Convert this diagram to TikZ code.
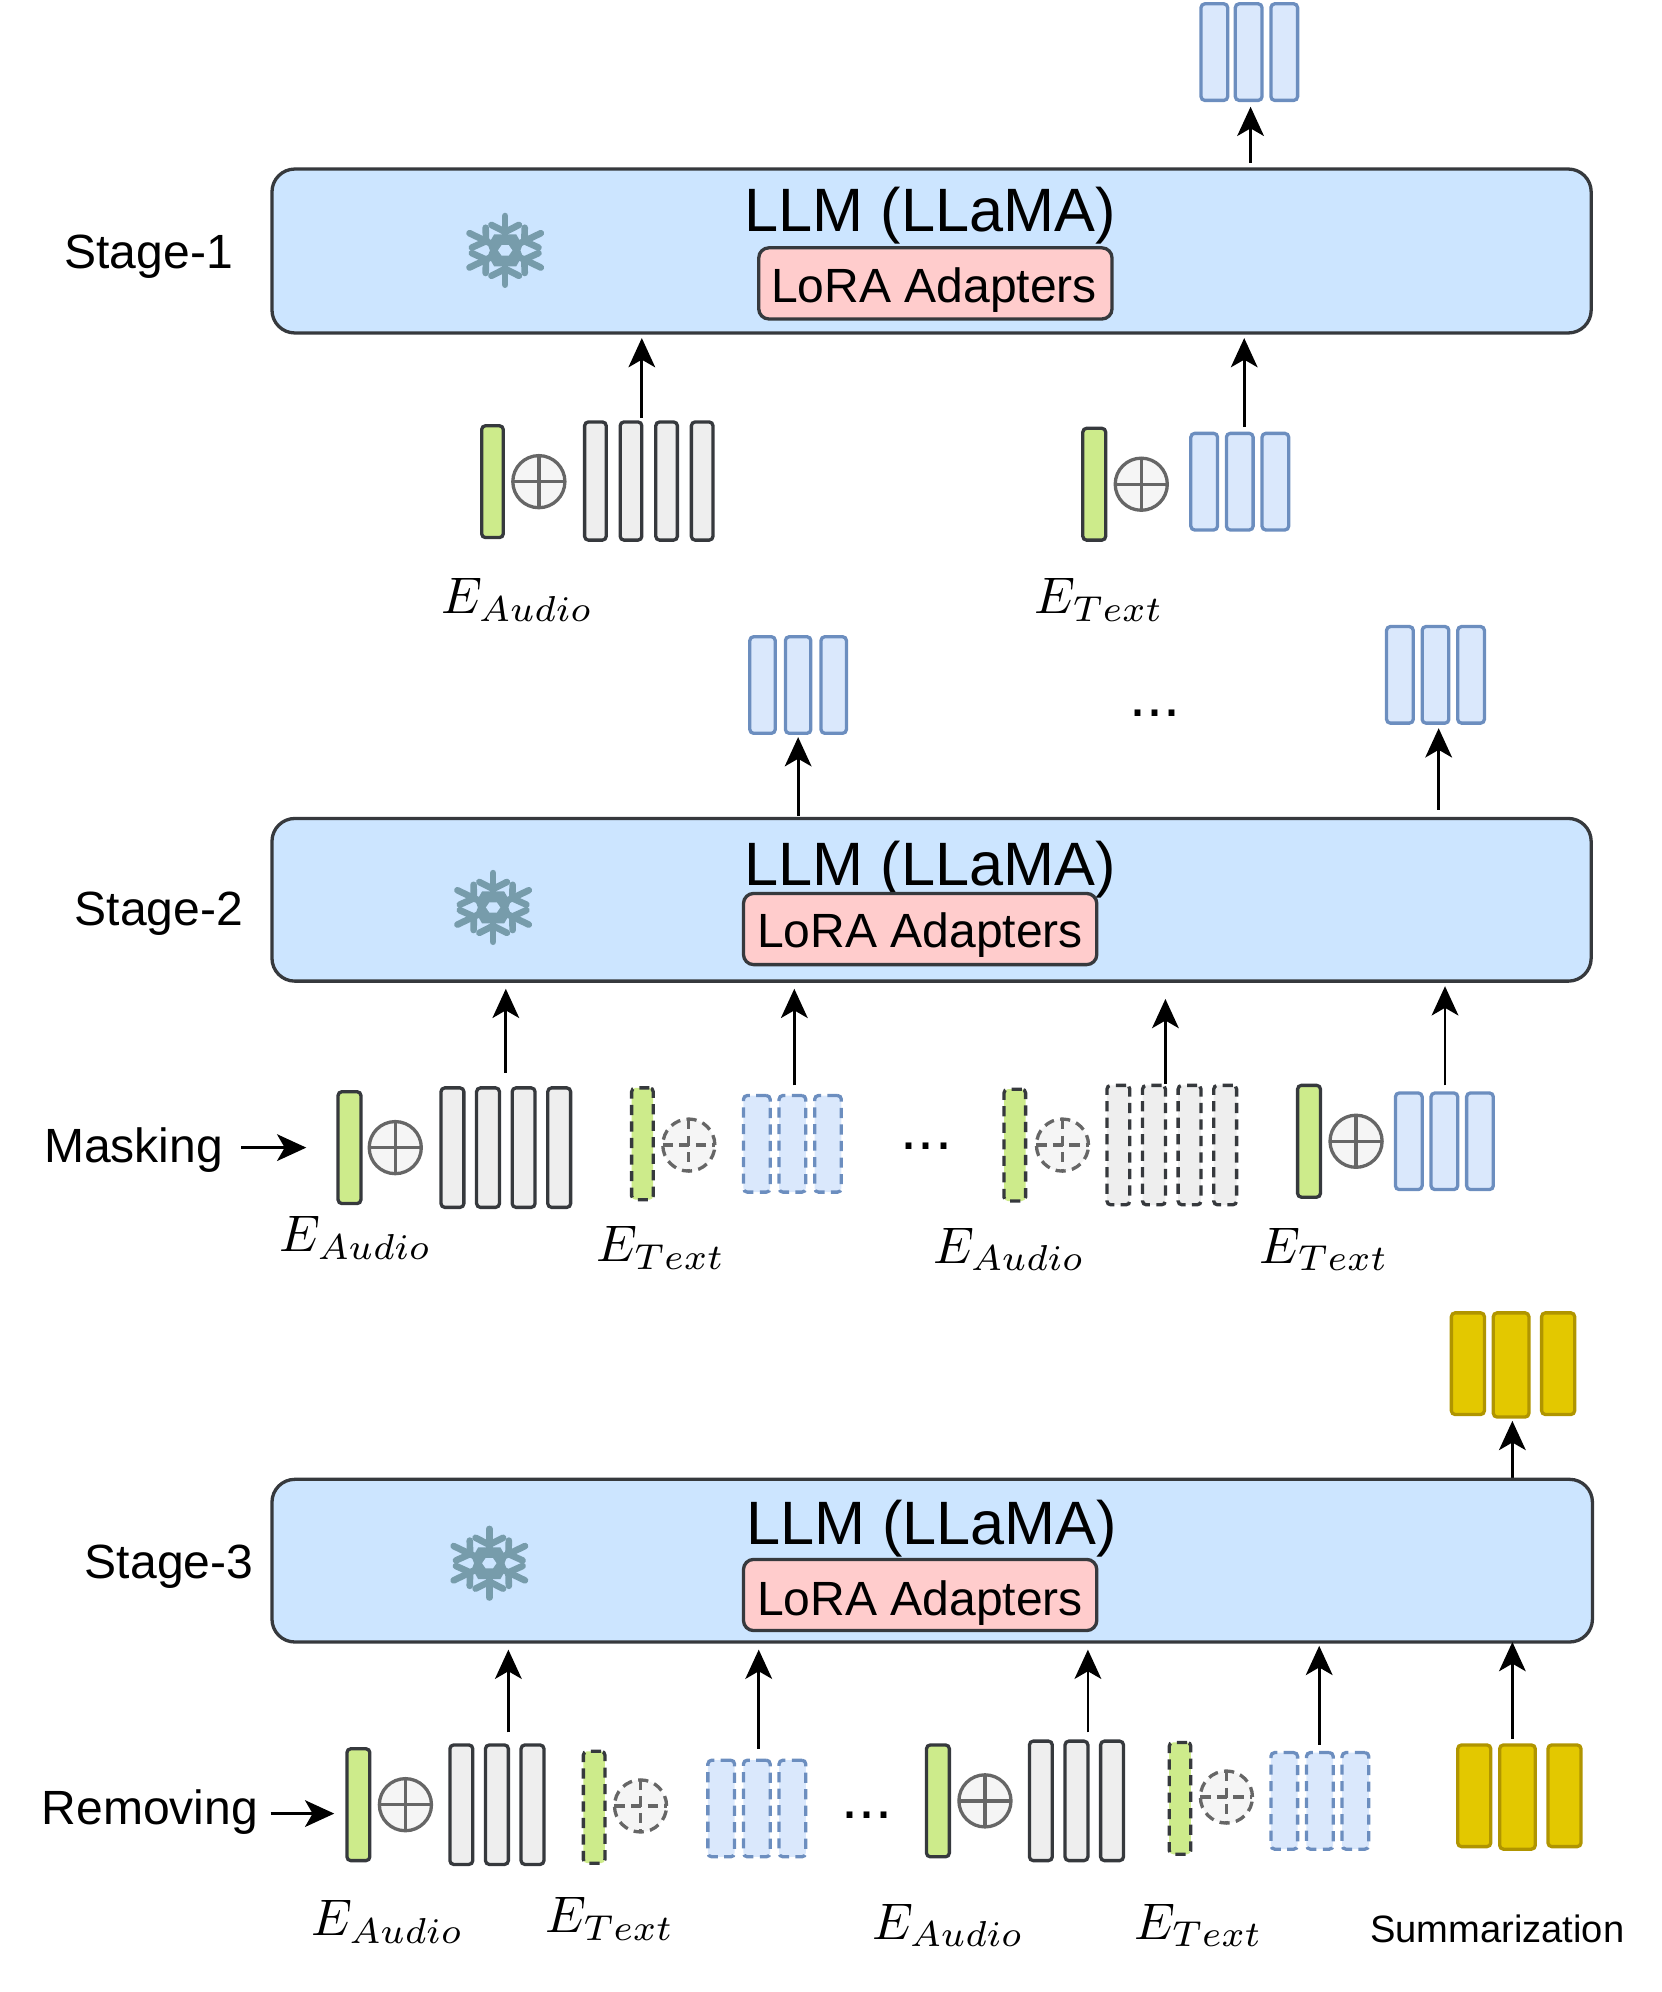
\documentclass[tikz,border=0pt]{standalone}
\usepackage{fontspec}
\setmainfont{Liberation Sans}
\usetikzlibrary{arrows.meta}
\definecolor{llmfill}{HTML}{CCE5FF}
\definecolor{darkline}{HTML}{36393D}
\definecolor{lorafill}{HTML}{FFCCCC}
\definecolor{bluefill}{HTML}{DAE8FC}
\definecolor{blueline}{HTML}{6C8EBF}
\definecolor{greenfill}{HTML}{CDEB8B}
\definecolor{grayfill}{HTML}{EEEEEE}
\definecolor{yellowfill}{HTML}{E3C800}
\definecolor{yellowline}{HTML}{B09500}
\definecolor{flake}{HTML}{779CAB}
\definecolor{xorline}{HTML}{666666}
\definecolor{xorfill}{HTML}{F5F5F5}
\tikzset{
  x=1pt,y=-1pt,
  boxbase/.style={rectangle,inner sep=0pt,outer sep=0pt,line width=2.6pt},
  llmbox/.style={boxbase,draw=darkline,fill=llmfill,rounded corners=18pt},
  lorabox/.style={boxbase,draw=darkline,fill=lorafill,rounded corners=8pt},
  bluebar/.style={boxbase,draw=blueline,fill=bluefill,rounded corners=3pt},
  graybar/.style={boxbase,draw=darkline,fill=grayfill,rounded corners=3pt},
  greenbar/.style={boxbase,draw=darkline,fill=greenfill,rounded corners=3pt},
  yellowbar/.style={boxbase,draw=yellowline,fill=yellowfill,rounded corners=3pt},
  maskdash/.style={dash pattern=on 8pt off 5pt},
  xorcirc/.style={circle,draw=xorline,fill=xorfill,line width=2.6pt,inner sep=0pt,outer sep=0pt,minimum size=41pt},
  xorcross/.style={draw=xorline,line width=2.6pt},
  arr/.style={draw=black,line width=2.2pt,-{Stealth[length=23pt,width=21pt,inset=6pt]}},
  big/.style={inner sep=0pt,font=\fontsize{48.2}{50}\selectfont},
  lab/.style={inner sep=0pt,font=\fontsize{37.8}{40}\selectfont},
  small/.style={inner sep=0pt,font=\fontsize{30}{32}\selectfont},
  emath/.style={inner sep=0pt,scale=4.05},
}
% rectangle node from corners
\newcommand\bx[6]{\node[#6,minimum width={#4-#2},minimum height={#5-#3}] (#1) at ({(#2+#4)/2},{(#3+#5)/2}) {};}
% group of bars: name, style, y1, y2, list of x1/x2
\newcommand\grp[5]{\foreach \xa/\xb [count=\ii] in {#5} {\bx{#1-\ii}{\xa}{#3}{\xb}{#4}{#2}}}
\newcommand\xorn[3]{\node[xorcirc] (#1) at (#2,#3) {};
  \draw[xorcross] (#1.north) -- (#1.south) (#1.west) -- (#1.east);}
\newcommand\xord[3]{\node[xorcirc,maskdash] (#1) at (#2,#3) {};
  \draw[xorcross,maskdash] (#1.north) -- (#1.south) (#1.west) -- (#1.east);}
\newcommand\conn[4]{\coordinate (#1-s) at (#2,#3); \coordinate (#1-e) at (#2,#4); \draw[arr] (#1-s) -- (#1-e);}
\newcommand\hconn[4]{\coordinate (#1-s) at (#2,#4); \coordinate (#1-e) at (#3,#4); \draw[arr] (#1-s) -- (#1-e);}
\newcommand\snow[2]{\begin{scope}[shift={(#1,#2)},xscale=1.2]
  \foreach \ang in {0,60,...,300} {
    \begin{scope}[rotate=\ang]
      \draw[flake,line width=5.2pt,line cap=round] (0,0) -- (0,-27);
      \draw[flake,line width=5.2pt,line cap=round] (-9,-20) -- (0,-14.5) -- (9,-20);
    \end{scope}}
  \fill[flake] (60:14.5) -- (20:12) -- (0:10) -- (-20:12) -- (-60:14.5) -- (-120:14.5) -- (-160:12) -- (180:10) -- (160:12) -- (120:14.5) -- cycle;
  \fill[llmfill] (0:4.7) -- (60:4.7) -- (120:4.7) -- (180:4.7) -- (240:4.7) -- (300:4.7) -- cycle;
\end{scope}}
\begin{document}
\begin{tikzpicture}
\useasboundingbox (0,0) rectangle (1307,1567.4);
% Stage 1
\bx{llm1}{214}{133}{1252}{262}{llmbox}
\node[big] (t1) at (732,170) {LLM (LLaMA)};
\bx{lora1}{597}{195}{875}{251}{lorabox}
\node[lab] (lt1) at (735,228) {LoRA Adapters};
\node[lab] (s1) at (117,202) {Stage-1};
\snow{397.5}{197}
\grp{o1}{bluebar}{3}{79}{945/966,972/993,1000/1021}
\conn{ao1}{984}{128}{84}
\bx{g1}{379}{335}{396}{423}{greenbar}
\xorn{x1}{424}{379}
\grp{a1}{graybar}{332}{425}{460/477,488/505,516/533,544/561}
\node[emath] (ea1) at (407,472) {$E_{Audio}$};
\conn{ia1}{505}{329}{266}
\bx{g2}{852}{337}{870}{425}{greenbar}
\xorn{x2}{898}{381}
\grp{b1}{bluebar}{341}{417}{937/958,965/986,993/1014}
\node[emath] (et1) at (865,472) {$E_{Text}$};
\conn{ib1}{979}{336}{266}
% Stage 2
\grp{o2}{bluebar}{501}{577}{590/610,618/638,646/666}
\grp{o3}{bluebar}{493}{569}{1091/1112,1119/1140,1147/1168}
\conn{ao2}{628}{642}{580}
\conn{ao3}{1132}{637}{573}
\node[big] (d1) at (909,561) {...};
\bx{llm2}{214}{644}{1252}{772}{llmbox}
\node[big] (t2) at (732,684) {LLM (LLaMA)};
\bx{lora2}{585}{703}{863}{759}{lorabox}
\node[lab] (lt2) at (724,736) {LoRA Adapters};
\node[lab] (s2) at (125,719) {Stage-2};
\snow{388}{714}
\node[lab] (mk) at (105,905) {Masking};
\hconn{amk}{190}{241}{903}
\bx{g3}{266}{859}{284}{947}{greenbar}
\xorn{x3}{311}{903}
\grp{a2}{graybar}{856}{950}{347/365,375/393,403/421,431/449}
\node[emath] (ea2) at (280,974) {$E_{Audio}$};
\conn{ia2}{398}{844}{778}
\bx{g4}{497}{856}{514}{944}{greenbar,maskdash}
\xord{x4}{542}{901}
\grp{b2}{bluebar,maskdash}{862}{938}{585/606,613/634,641/662}
\node[emath] (et2) at (520,982) {$E_{Text}$};
\conn{ib2}{625}{854}{778}
\node[big] (d2) at (729,902) {...};
\bx{g5}{790}{857}{807}{945}{greenbar,maskdash}
\xord{x5}{836}{901}
\grp{a3}{graybar,maskdash}{854}{948}{871/889,899/917,927/945,955/973}
\node[emath] (ea3) at (794,983) {$E_{Audio}$};
\conn{ia3}{917}{853}{786}
\bx{g6}{1021}{854}{1039}{942}{greenbar}
\xorn{x6}{1067}{898}
\grp{b3}{bluebar}{860}{936}{1098/1119,1126/1147,1154/1175}
\node[emath] (et3) at (1042,983) {$E_{Text}$};
\conn{ib3}{1137}{854}{776}
% Stage 3
\grp{y1}{yellowbar}{1033}{1113}{1142/1168,1213/1239}
\bx{y1-m}{1175}{1033}{1203}{1115}{yellowbar}
\conn{ay1}{1190}{1163}{1118}
\bx{llm3}{214}{1164}{1253}{1292}{llmbox}
\node[big] (t3) at (733,1203) {LLM (LLaMA)};
\bx{lora3}{585}{1227}{863}{1283}{lorabox}
\node[lab] (lt3) at (724,1261) {LoRA Adapters};
\node[lab] (s3) at (133,1233) {Stage-3};
\snow{385}{1230}
\node[lab] (rm) at (118,1426) {Removing};
\hconn{arm}{213}{263}{1427}
\bx{g7}{273}{1376}{291}{1464}{greenbar}
\xorn{x7}{319}{1420}
\grp{a4}{graybar}{1373}{1467}{354/372,382/400,410/428}
\node[emath] (ea4) at (305,1512) {$E_{Audio}$};
\conn{ia4}{400}{1363}{1298}
\bx{g8}{459}{1378}{476}{1466}{greenbar,maskdash}
\xord{x8}{504}{1421}
\grp{b4}{bluebar,maskdash}{1385}{1461}{557/578,585/606,613/634}
\node[emath] (et4) at (480,1510) {$E_{Text}$};
\conn{ib4}{597}{1376}{1298}
\node[big] (d3) at (682,1428) {...};
\bx{g9}{729}{1373}{747}{1461}{greenbar}
\xorn{x9}{775}{1417}
\grp{a5}{graybar}{1370}{1464}{810/828,838/856,866/884}
\node[emath] (ea5) at (746,1515) {$E_{Audio}$};
\conn{ia5}{856}{1363}{1298}
\bx{g10}{920}{1371}{937}{1459}{greenbar,maskdash}
\xord{x10}{965}{1414}
\grp{b5}{bluebar,maskdash}{1379}{1455}{1000/1021,1028/1049,1056/1077}
\node[emath] (et5) at (943,1515) {$E_{Text}$};
\conn{ib5}{1038}{1373}{1295}
\grp{y2}{yellowbar}{1373}{1453}{1147/1173,1218/1244}
\bx{y2-m}{1180}{1373}{1208}{1455}{yellowbar}
\conn{ay2}{1190}{1368}{1292}
\node[small] (sum) at (1178,1518) {Summarization};
\end{tikzpicture}
\end{document}
